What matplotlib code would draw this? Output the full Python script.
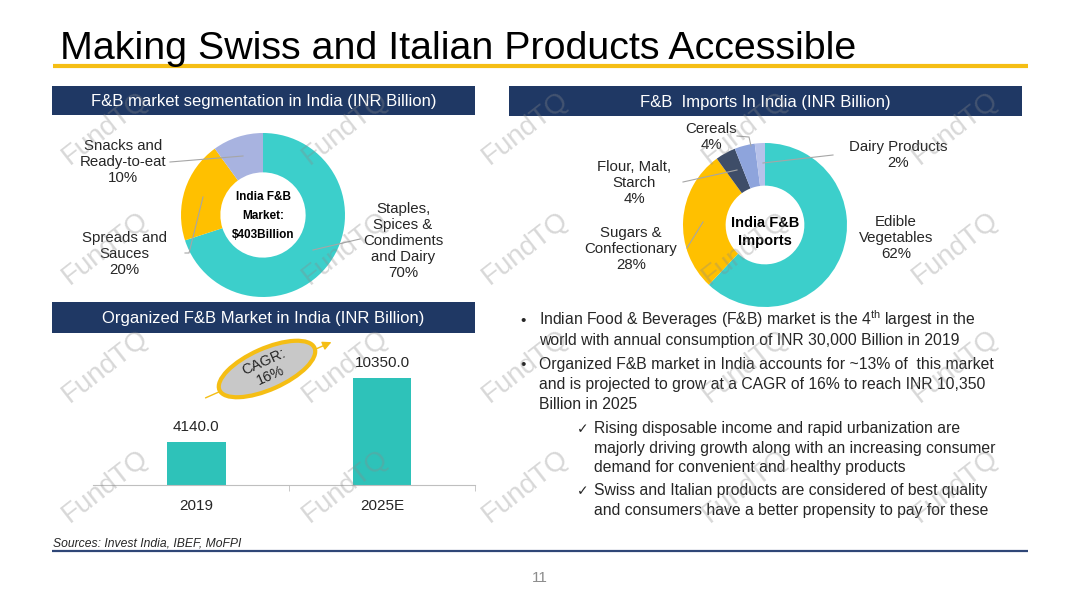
import matplotlib
matplotlib.use('Agg')
import matplotlib.pyplot as plt
from matplotlib.patches import Rectangle, Ellipse, FancyArrowPatch

plt.rcParams['font.family'] = ['Liberation Sans', 'DejaVu Sans']
plt.rcParams['mathtext.fontset'] = 'custom'
plt.rcParams['mathtext.rm'] = 'Liberation Sans'
plt.rcParams['mathtext.bf'] = 'Liberation Sans:bold'

# ---------------- data ----------------
seg_labels = ["Staples,\nSpices &\nCondiments\nand Dairy", "Spreads and\nSauces", "Snacks and\nReady-to-eat"]
seg_values = [70, 20, 10]
seg_colors = ["#3CCFCB", "#FFC000", "#A8B3E0"]

imp_labels = ["Edible\nVegetables", "Sugars &\nConfectionary", "Flour, Malt,\nStarch", "Cereals", "Dairy Products"]
imp_values = [62, 28, 4, 4, 2]
imp_colors = ["#3CCFCB", "#FFC000", "#3E4D68", "#8EA4DC", "#B7C2EA"]

years = ["2019", "2025E"]
org_values = [4140.0, 10350.0]
bar_color = "#2EC2B9"

bullets = [
    ["Indian Food & Beverages (F&B) market is the 4$^{\\mathrm{th}}$ largest in the",
     "world with annual consumption of INR 30,000 Billion in 2019"],
    ["Organized F&B market in India accounts for ~13% of  this market",
     "and is projected to grow at a CAGR of 16% to reach INR 10,350",
     "Billion in 2025"],
]
sub_bullets = [
    ["Rising disposable income and rapid urbanization are",
     "majorly driving growth along with an increasing consumer",
     "demand for convenient and healthy products"],
    ["Swiss and Italian products are considered of best quality",
     "and consumers have a better propensity to pay for these"],
]

W, H = 1080, 608
NAVY = "#1F3864"
GOLD = "#F5BE14"
TXT = "#262626"


def fr(x0, y0, x1, y1):
    return [x0 / W, 1 - y1 / H, (x1 - x0) / W, (y1 - y0) / H]


fig = plt.figure(figsize=(W / 100, H / 100), dpi=100)
fig.patch.set_facecolor("white")

# ---------------- donut 1 ----------------
cx1, cy1, r1 = 263, 215, 82
ax1 = fig.add_axes(fr(cx1 - r1, cy1 - r1, cx1 + r1, cy1 + r1))
ax1.pie(seg_values, colors=seg_colors, startangle=90, counterclock=False, radius=1,
        wedgeprops=dict(width=0.48, edgecolor="none"))
ax1.set_xlim(-1, 1); ax1.set_ylim(-1, 1); ax1.set_aspect("equal"); ax1.axis("off")

# ---------------- donut 2 ----------------
cx2, cy2, r2 = 765, 225, 82
ax2 = fig.add_axes(fr(cx2 - r2, cy2 - r2, cx2 + r2, cy2 + r2))
ax2.pie(imp_values, colors=imp_colors, startangle=90, counterclock=False, radius=1,
        wedgeprops=dict(width=0.52, edgecolor="none"))
ax2.set_xlim(-1, 1); ax2.set_ylim(-1, 1); ax2.set_aspect("equal"); ax2.axis("off")

# ---------------- bar chart ----------------
axb = fig.add_axes(fr(93, 330, 475, 485))
axb.set_facecolor("none")
x = list(range(len(years)))
bars = axb.bar(x, org_values, width=0.316, color=bar_color)
axb.set_xlim(-0.556, 1.5)
axb.set_ylim(0, 15000)
axb.bar_label(bars, fmt="%.1f", padding=6, fontsize=11, color=TXT)
for s in ["top", "right", "left"]:
    axb.spines[s].set_visible(False)
axb.spines["bottom"].set_color("#BFBFBF")
axb.set_yticks([])
axb.set_xticks(x, years, fontsize=11, color=TXT)
axb.tick_params(axis="x", which="major", length=0, pad=10)
axb.set_xticks([0.5, 1.5], minor=True)
axb.tick_params(axis="x", which="minor", length=4, color="#BFBFBF")

# ---------------- overlay (pixel coordinates) ----------------
ov = fig.add_axes([0, 0, 1, 1])
ov.set_facecolor("none")
ov.set_xlim(0, W); ov.set_ylim(H, 0); ov.axis("off")

# title
ov.text(60, 59, "Making Swiss and Italian Products Accessible", fontsize=28.4, color="black",
        va="baseline", ha="left")
ov.plot([53, 1028], [66, 66], color=GOLD, lw=3, solid_capstyle="butt")

# section headers
headers = [((52, 86, 475, 115), "F&B market segmentation in India (INR Billion)"),
           ((509, 86, 1022, 116), "F&B  Imports In India (INR Billion)"),
           ((52, 302, 475, 333), "Organized F&B Market in India (INR Billion)")]
for (x0, y0, x1, y1), t in headers:
    ov.add_patch(Rectangle((x0, y0), x1 - x0, y1 - y0, facecolor=NAVY, edgecolor="none", zorder=2))
    ov.text((x0 + x1) / 2, (y0 + y1) / 2 + 1, t, color="white", fontsize=12, ha="center",
            va="center", zorder=3)

# donut 1 labels
seg_pos = [(403, 241), (124, 254), (123, 162)]
seg_lines = [[(313, 250), (360, 239)],
             [(185, 253), (189, 253), (203, 197)],
             [(170, 162), (243, 156)]]
for lab, v, (px, py) in zip(seg_labels, seg_values, seg_pos):
    ov.text(px, py, f"{lab}\n{v}%", ha="center", va="center", fontsize=10.8,
            color=TXT, linespacing=1.2, zorder=4)
for pts in seg_lines:
    ov.plot([p[0] for p in pts], [p[1] for p in pts], color="#A6A6A6", lw=0.8, zorder=3)
ov.text(cx1, cy1 + 1, "India F&B\nMarket:\n\\$403Billion", ha="center", va="center",
        fontsize=8.5, fontweight="bold", color="black", linespacing=1.75, zorder=4)

# donut 2 labels
imp_pos = [(896, 238), (631, 249), (634, 183), (711, 137), (898, 155)]
imp_lines = [[(687, 248), (703, 222)],
             [(683, 182), (737, 170)],
             [(737, 136), (749, 137), (751, 146)],
             [(763, 163), (833, 155)]]
for lab, v, (px, py) in zip(imp_labels, imp_values, imp_pos):
    ov.text(px, py, f"{lab}\n{v}%", ha="center", va="center", fontsize=10.8,
            color=TXT, linespacing=1.2, zorder=4)
for pts in imp_lines:
    ov.plot([p[0] for p in pts], [p[1] for p in pts], color="#A6A6A6", lw=0.8, zorder=3)
ov.text(cx2, cy2 + 7, "India F&B\nImports", ha="center", va="center",
        fontsize=10.5, fontweight="bold", color="black", linespacing=1.3, zorder=4)

# CAGR annotation
ov.add_patch(FancyArrowPatch((203, 399), (334, 341), arrowstyle="-|>", mutation_scale=13,
                             color=GOLD, lw=1.0, zorder=3))
ov.add_patch(Ellipse((267, 369), 104, 41, angle=-24, facecolor="#C8C8C8",
                     edgecolor=GOLD, lw=3, zorder=4))
ov.text(267, 369, "CAGR:\n16%", rotation=24, ha="center", va="center", fontsize=10.5,
        color=TXT, linespacing=1.1, zorder=5, rotation_mode="anchor")

# bullet text
y = 325
for para in bullets:
    ov.text(520, y, "\u2022", fontsize=11, color=TXT, va="baseline", ha="left")
    for line in para:
        ov.text(539, y, line, fontsize=11.3, color=TXT, va="baseline", ha="left")
        y += 20
    y += 4
for para in sub_bullets:
    ov.text(577, y, "\u2713", fontsize=10, color=TXT, va="baseline", ha="left",
            family=["DejaVu Sans"])
    for line in para:
        ov.text(594, y, line, fontsize=11.3, color=TXT, va="baseline", ha="left")
        y += 19.5
    y += 4

# sources, bottom rule, page number
ov.text(53, 547, "Sources: Invest India, IBEF, MoFPI", fontsize=8.7, style="italic",
        color=TXT, va="baseline", ha="left")
ov.plot([52, 1028], [551, 551], color="#2F4677", lw=1.6, solid_capstyle="butt")
ov.text(540, 578, "11", fontsize=11, color="#8C8C8C", ha="center", va="center")

# watermarks
wm_x = [105, 345, 525, 745, 955]
wm_y = [128, 248, 366, 486]
for wy in wm_y:
    for wx in wm_x:
        ov.text(wx, wy, "FundTQ", rotation=38, fontsize=20, color="#8A8A8A", alpha=0.33,
                ha="center", va="center", zorder=10)

fig.savefig("out.png", dpi=100)
